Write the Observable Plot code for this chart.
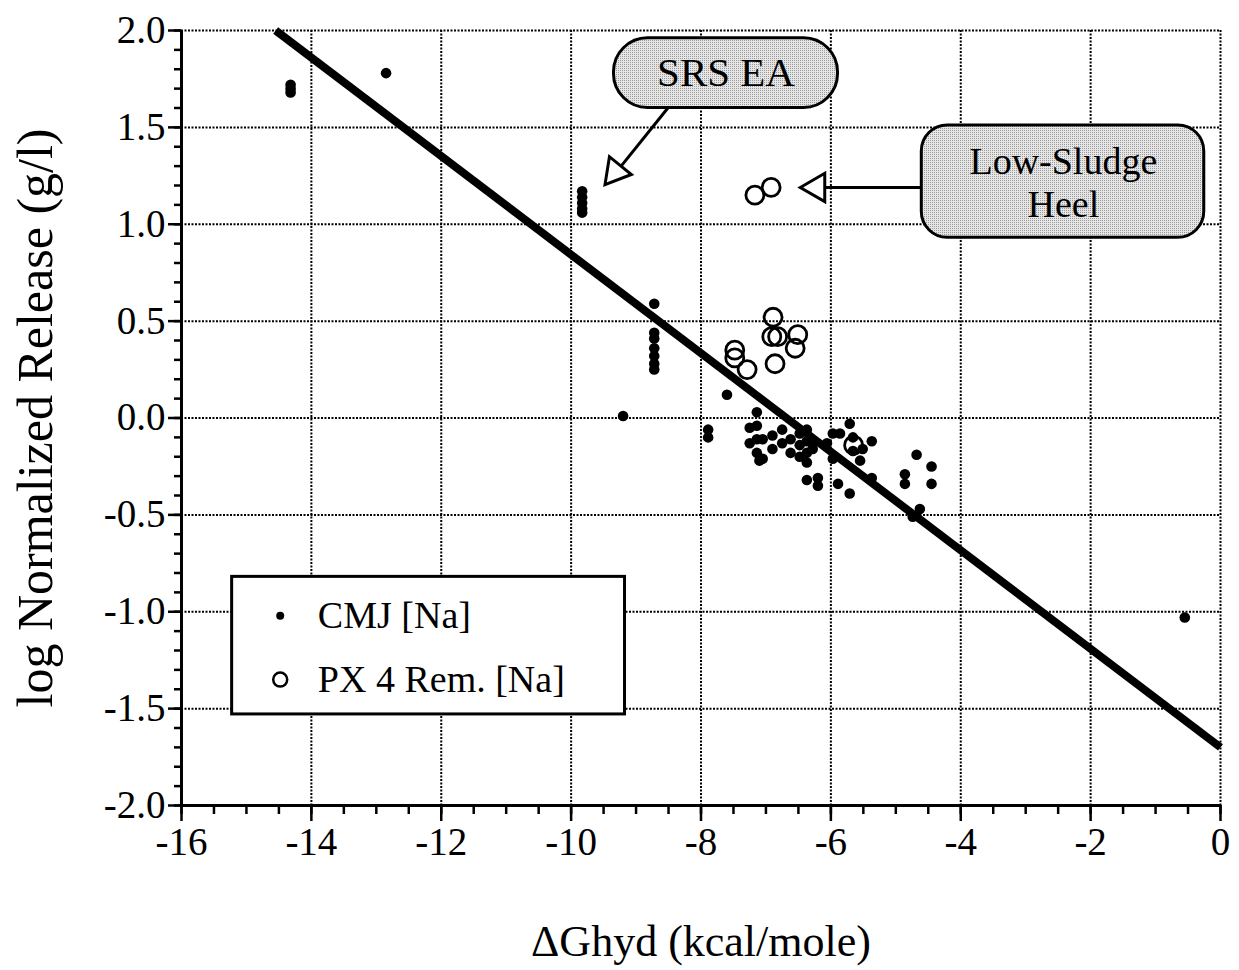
<!DOCTYPE html>
<html><head><meta charset="utf-8">
<script src="https://cdn.jsdelivr.net/npm/d3@7"></script>
<script src="https://cdn.jsdelivr.net/npm/@observablehq/plot@0.6"></script>
<style>body{margin:0;background:#fff} #chart{width:1239px;height:970px}</style>
</head><body><div id="chart"></div>
<script>
// ---- data ----
const cmjX = [-14.32,-14.32,-14.32,-12.85,
  -9.83,-9.83,-9.83,-9.83,-9.83,
  -8.72,-8.72,-8.72,-8.72,-8.72,-8.72,-8.72,
  -9.2,-7.89,-7.89,-7.6,
  -7.14,-7.14,-7.14,-7.14,-7.10,-7.25,-7.25,-7.05,-7.05,
  -6.9,-6.9,-6.75,-6.75,-6.62,-6.62,-6.48,-6.48,-6.48,
  -6.37,-6.37,-6.37,-6.37,-6.28,-6.28,-6.37,-6.2,-6.2,
  -5.71,-5.97,-5.86,-6.06,-5.66,-5.66,-5.37,-5.51,-5.55,-5.97,
  -5.89,-5.71,-5.37,-4.68,-4.45,-4.45,-4.86,-4.86,-4.63,-4.74,-0.55];
const cmjY = [1.72,1.70,1.68,1.78,
  1.17,1.14,1.11,1.08,1.06,
  0.59,0.44,0.41,0.36,0.32,0.28,0.25,
  0.01,-0.06,-0.10,0.12,
  0.03,-0.04,-0.11,-0.18,-0.22,-0.05,-0.13,-0.11,-0.21,
  -0.09,-0.16,-0.06,-0.13,-0.11,-0.18,-0.08,-0.14,-0.20,
  -0.06,-0.12,-0.18,-0.23,-0.13,-0.16,-0.32,-0.31,-0.35,
  -0.03,-0.08,-0.08,-0.13,-0.10,-0.17,-0.12,-0.16,-0.22,-0.21,
  -0.34,-0.39,-0.31,-0.19,-0.25,-0.34,-0.29,-0.34,-0.47,-0.51,-1.03];
const pxX = [-7.17,-6.92,-6.89,-6.91,-6.82,-6.51,-6.55,-7.48,-7.48,-7.29,-6.86,-5.65];
const pxY = [1.15,1.19,0.52,0.42,0.42,0.43,0.36,0.35,0.31,0.25,0.28,-0.14];
const fitX = [-14.55, 0];
const fitY = [2.0, -1.7];
const xMajor = [-16,-14,-12,-10,-8,-6,-4,-2,0];
const yMajor = [-2,-1.5,-1,-0.5,0,0.5,1,1.5,2];
const seriesNames = ["CMJ [Na]", "PX 4 Rem. [Na]"];
const calloutTexts = ["SRS EA", "Low-Sludge\nHeel"];
const xTitle = "ΔGhyd (kcal/mole)";
const yTitle = "log Normalized Release (g/l)";

const cmj = cmjX.map((x, i) => ({x, y: cmjY[i]}));
const px = pxX.map((x, i) => ({x, y: pxY[i]}));
const fit = fitX.map((x, i) => ({x, y: fitY[i]}));
const xMinor = d3.range(-32, 1).map(d => d / 2);
const yMinor = d3.range(-20, 21).map(d => d / 10);
const FONT = "'Liberation Serif', 'Times New Roman', serif";
const BOXFILL = "#d7d7d7";

const plot = Plot.plot({
  width: 1239, height: 970,
  marginLeft: 181, marginRight: 19, marginTop: 30, marginBottom: 165,
  style: {fontFamily: FONT, background: "#fff", color: "#000"},
  x: {domain: [-16, 0]},
  y: {domain: [-2, 2]},
  marks: [
    Plot.gridX(xMajor.filter(d => d > -16), {stroke: "#000", strokeOpacity: 1, strokeWidth: 2, strokeDasharray: "2,1.5"}),
    Plot.gridY(yMajor.filter(d => d > -2), {stroke: "#000", strokeOpacity: 1, strokeWidth: 2, strokeDasharray: "2,1.5"}),
    Plot.axisY(yMinor, {anchor: "left", tickSize: 7, strokeWidth: 2.5, tickFormat: () => "", label: null}),
    Plot.axisY(yMajor, {anchor: "left", tickSize: 13, tickPadding: 3, strokeWidth: 2.5, fontSize: 39, tickFormat: d => d.toFixed(1), label: null}),
    Plot.axisX(xMinor, {anchor: "bottom", tickSize: 9, strokeWidth: 2.5, tickFormat: () => "", label: null}),
    Plot.axisX(xMajor, {anchor: "bottom", tickSize: 16, tickPadding: 6, strokeWidth: 2.5, fontSize: 39, tickFormat: d => String(d), label: null}),
    Plot.ruleX([-16], {strokeWidth: 3}),
    Plot.ruleY([-2], {strokeWidth: 3}),
    // regression line
    Plot.line(fit, {x: "x", y: "y", stroke: "#000", strokeWidth: 8, strokeLinecap: "butt"}),
    // data
    Plot.dot(cmj, {x: "x", y: "y", r: 5.3, fill: "#000", stroke: "none"}),
    Plot.dot(px, {x: "x", y: "y", r: 9, fill: "none", stroke: "#000", strokeWidth: 2.8}),
    // callout: SRS EA
    Plot.link([0], {x1: -8.51, y1: 1.60, x2: -9.23, y2: 1.30, stroke: "#000", strokeWidth: 3}),
    Plot.dot([0], {x: -9.32, y: 1.27, symbol: "triangle", r: 10.5, rotate: 219, fill: "#fff", stroke: "#000", strokeWidth: 3}),
    Plot.rect([0], {x1: -9.34, x2: -5.89, y1: 1.96, y2: 1.60, rx: 34, fill: BOXFILL, stroke: "#000", strokeWidth: 3}),
    Plot.text([calloutTexts[0]], {x: -7.615, y: 1.78, text: d => d, fontSize: 41, textAnchor: "middle", lineAnchor: "middle", fill: "#000"}),
    // callout: Low-Sludge Heel
    Plot.link([0], {x1: -4.6, y1: 1.19, x2: -6.09, y2: 1.19, stroke: "#000", strokeWidth: 3}),
    Plot.dot([0], {x: -6.22, y: 1.19, symbol: "triangle", r: 10.5, rotate: -90, fill: "#fff", stroke: "#000", strokeWidth: 3}),
    Plot.rect([0], {x1: -4.6, x2: -0.25, y1: 1.51, y2: 0.93, rx: 26, fill: BOXFILL, stroke: "#000", strokeWidth: 3}),
    Plot.text([calloutTexts[1]], {x: -2.42, y: 1.22, text: d => d, fontSize: 38, lineHeight: 1.12, textAnchor: "middle", lineAnchor: "middle", fill: "#000"}),
    // legend
    Plot.rect([0], {x1: -15.22, x2: -9.17, y1: -0.82, y2: -1.53, fill: "#fff", stroke: "#000", strokeWidth: 3}),
    Plot.dot([0], {x: -14.48, y: -1.02, r: 4, fill: "#000"}),
    Plot.dot([0], {x: -14.48, y: -1.35, r: 7, fill: "none", stroke: "#000", strokeWidth: 2.5}),
    Plot.text([seriesNames[0]], {x: -13.9, y: -1.02, text: d => d, fontSize: 38, textAnchor: "start", lineAnchor: "middle", fill: "#000"}),
    Plot.text([seriesNames[1]], {x: -13.9, y: -1.35, text: d => d, fontSize: 38, textAnchor: "start", lineAnchor: "middle", fill: "#000"}),
    // axis titles
    Plot.text([xTitle], {frameAnchor: "bottom", dy: 136, text: d => d, fontSize: 44, textAnchor: "middle", lineAnchor: "middle", fill: "#000"}),
    Plot.text([yTitle], {frameAnchor: "left", dx: -146, rotate: -90, text: d => d, fontSize: 50, textAnchor: "middle", lineAnchor: "middle", fill: "#000"})
  ]
});
// stippled fill for the callout boxes
const svg = d3.select(plot);
const defs = svg.insert("defs", ":first-child");
const pat = defs.append("pattern").attr("id", "stipple").attr("width", 2).attr("height", 2).attr("patternUnits", "userSpaceOnUse");
pat.append("rect").attr("width", 2).attr("height", 2).attr("fill", "#e6e6e6");
pat.append("rect").attr("width", 1).attr("height", 1).attr("fill", "#9a9a9a");
svg.selectAll(`[fill="${BOXFILL}"]`).attr("fill", "url(#stipple)");
document.getElementById("chart").appendChild(plot);
</script>
</body></html>
